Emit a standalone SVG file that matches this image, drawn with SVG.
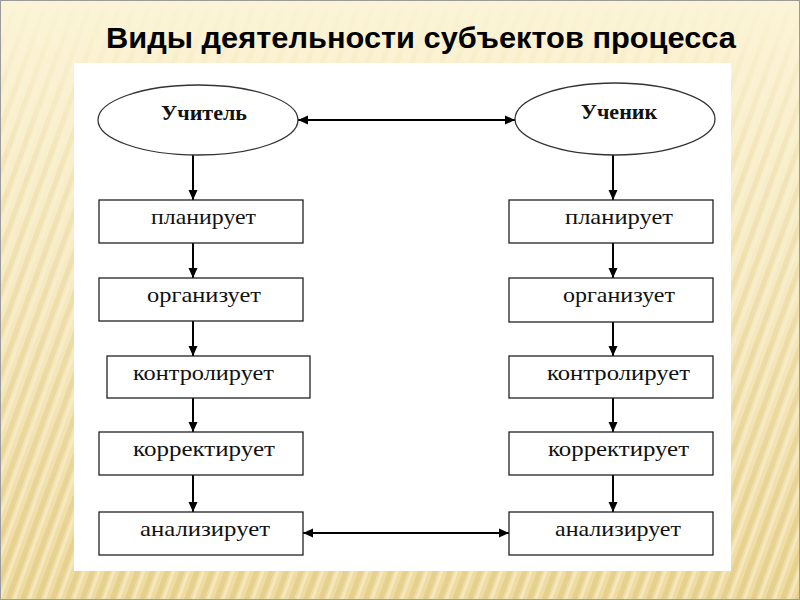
<svg xmlns="http://www.w3.org/2000/svg" width="800" height="600" viewBox="0 0 800 600">
  <defs>
    <linearGradient id="bg" x1="0" y1="0" x2="0" y2="1">
      <stop offset="0" stop-color="#fbf4d6"/>
      <stop offset="0.5" stop-color="#f6e9bf"/>
      <stop offset="1" stop-color="#eedb9e"/>
    </linearGradient>
    <pattern id="stripes" width="14" height="14" patternUnits="userSpaceOnUse" patternTransform="rotate(20)">
      <rect x="0" y="0" width="5" height="14" fill="#dcc27a" opacity="0.45"/>
      <rect x="7" y="0" width="3" height="14" fill="#ffffff" opacity="0.35"/>
    </pattern>
    <linearGradient id="fadeV" x1="0" y1="0" x2="0" y2="1">
      <stop offset="0" stop-color="#fff" stop-opacity="0"/>
      <stop offset="0.25" stop-color="#fff" stop-opacity="0.4"/>
      <stop offset="1" stop-color="#fff" stop-opacity="1"/>
    </linearGradient>
    <mask id="stripeMask">
      <rect width="800" height="600" fill="url(#fadeV)"/>
    </mask>
    <marker id="arr" viewBox="0 0 10 10" refX="10" refY="5" markerWidth="10" markerHeight="10" markerUnits="userSpaceOnUse" orient="auto-start-reverse">
      <path d="M0,0.5 L10,5 L0,9.5 Z" fill="#000"/>
    </marker>
    <style>
      .box { fill: #fff; stroke: #222; stroke-width: 1.3; }
      .ell { fill: #fff; stroke: #333; stroke-width: 1.3; }
      .lbl { font-family: "Liberation Serif", "Times New Roman", serif; font-size: 21px; fill: #111; }
      .head { font-family: "Liberation Serif", "Times New Roman", serif; font-size: 22px; font-weight: bold; fill: #111; }
      .con { stroke: #000; stroke-width: 2; fill: none; }
      .title { font-family: "Liberation Sans", Arial, sans-serif; font-size: 29px; font-weight: bold; fill: #000; }
    </style>
  </defs>

  <!-- background slide -->
  <rect x="0" y="0" width="800" height="600" fill="url(#bg)"/>
  <rect x="0" y="0" width="800" height="600" fill="url(#stripes)" mask="url(#stripeMask)"/>
  <rect x="0.5" y="0.5" width="799" height="599" fill="none" stroke="#9a9a9a" stroke-width="1"/>

  <text class="title" x="106" y="48" textLength="630" lengthAdjust="spacingAndGlyphs">Виды деятельности субъектов процесса</text>

  <!-- white panel -->
  <rect x="74" y="63" width="657" height="508" fill="#fff"/>

  <!-- connectors -->
  <g id="connectors">
    <line class="con" x1="298" y1="120" x2="515" y2="120" marker-start="url(#arr)" marker-end="url(#arr)"/>
    <line class="con" x1="303" y1="533" x2="509" y2="533" marker-start="url(#arr)" marker-end="url(#arr)"/>
    <line class="con" x1="193" y1="155" x2="193" y2="200" marker-end="url(#arr)"/>
    <line class="con" x1="193" y1="243" x2="193" y2="278" marker-end="url(#arr)"/>
    <line class="con" x1="193" y1="321" x2="193" y2="356" marker-end="url(#arr)"/>
    <line class="con" x1="193" y1="398" x2="193" y2="432" marker-end="url(#arr)"/>
    <line class="con" x1="193" y1="475" x2="193" y2="512" marker-end="url(#arr)"/>
    <line class="con" x1="613" y1="155" x2="613" y2="200" marker-end="url(#arr)"/>
    <line class="con" x1="613" y1="243" x2="613" y2="278" marker-end="url(#arr)"/>
    <line class="con" x1="613" y1="322" x2="613" y2="356" marker-end="url(#arr)"/>
    <line class="con" x1="613" y1="398" x2="613" y2="432" marker-end="url(#arr)"/>
    <line class="con" x1="613" y1="475" x2="613" y2="512" marker-end="url(#arr)"/>
  </g>

  <!-- left column -->
  <g id="uchitel">
    <ellipse class="ell" cx="198" cy="120" rx="100" ry="35"/>
    <text class="head" x="204" y="120" text-anchor="middle">Учитель</text>
  </g>
  <g id="l-plan">
    <rect class="box" x="99" y="200" width="204" height="43"/>
    <text class="lbl" x="151" y="224" textLength="105" lengthAdjust="spacingAndGlyphs">планирует</text>
  </g>
  <g id="l-org">
    <rect class="box" x="99" y="278" width="204" height="43"/>
    <text class="lbl" x="147" y="302" textLength="114" lengthAdjust="spacingAndGlyphs">организует</text>
  </g>
  <g id="l-kontr">
    <rect class="box" x="107" y="356" width="203" height="42"/>
    <text class="lbl" x="133" y="380" textLength="141" lengthAdjust="spacingAndGlyphs">контролирует</text>
  </g>
  <g id="l-korr">
    <rect class="box" x="99" y="432" width="204" height="43"/>
    <text class="lbl" x="133" y="456" textLength="142" lengthAdjust="spacingAndGlyphs">корректирует</text>
  </g>
  <g id="l-anal">
    <rect class="box" x="99" y="512" width="204" height="43"/>
    <text class="lbl" x="140" y="536" textLength="130" lengthAdjust="spacingAndGlyphs">анализирует</text>
  </g>

  <!-- right column -->
  <g id="uchenik">
    <ellipse class="ell" cx="615" cy="119" rx="100" ry="36"/>
    <text class="head" x="619" y="119" text-anchor="middle">Ученик</text>
  </g>
  <g id="r-plan">
    <rect class="box" x="509" y="200" width="204" height="43"/>
    <text class="lbl" x="565" y="224" textLength="108" lengthAdjust="spacingAndGlyphs">планирует</text>
  </g>
  <g id="r-org">
    <rect class="box" x="509" y="278" width="204" height="44"/>
    <text class="lbl" x="563" y="302" textLength="112" lengthAdjust="spacingAndGlyphs">организует</text>
  </g>
  <g id="r-kontr">
    <rect class="box" x="509" y="356" width="204" height="42"/>
    <text class="lbl" x="547" y="380" textLength="143" lengthAdjust="spacingAndGlyphs">контролирует</text>
  </g>
  <g id="r-korr">
    <rect class="box" x="509" y="432" width="204" height="43"/>
    <text class="lbl" x="548" y="456" textLength="141" lengthAdjust="spacingAndGlyphs">корректирует</text>
  </g>
  <g id="r-anal">
    <rect class="box" x="509" y="512" width="204" height="43"/>
    <text class="lbl" x="555" y="536" textLength="126" lengthAdjust="spacingAndGlyphs">анализирует</text>
  </g>
</svg>
